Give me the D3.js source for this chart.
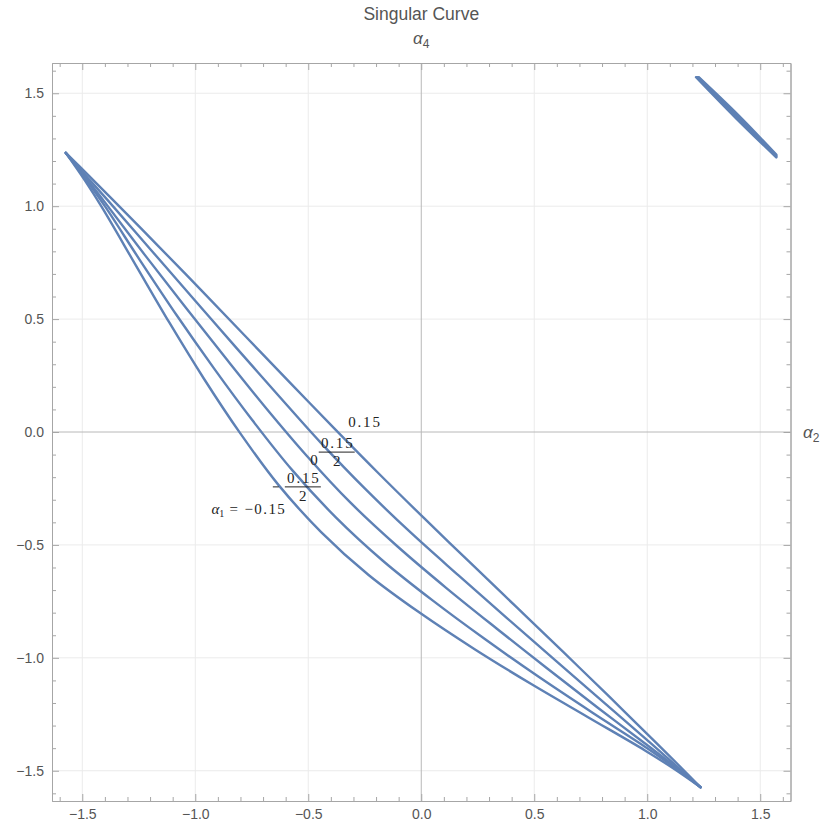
<!DOCTYPE html>
<html>
<head>
<meta charset="utf-8">
<script src="https://cdn.jsdelivr.net/npm/d3@7"></script>
<style>
  body { margin: 0; background: #fff; }
  text { font-family: "Liberation Sans", Arial, sans-serif; }
</style>
</head>
<body>
<div id="chart"></div>
<script>
// contour levels of alpha_1
const alphaLevels = [-0.15, -0.075, 0, 0.075, 0.15];

// main branch of each contour, [alpha2, alpha4]
const branchMinus015 = [[-1.573, 1.236], [-1.488, 1.113], [-1.41, 0.99], [-1.263, 0.738], [-1.115, 0.485], [-0.963, 0.238], [-0.803, -0.003], [-0.633, -0.233], [-0.443, -0.443], [-0.233, -0.633], [-0.003, -0.803], [0.238, -0.963], [0.485, -1.115], [0.738, -1.263], [0.99, -1.41], [1.113, -1.488], [1.236, -1.573]];
const branchMinus0075 = [[-1.573, 1.236], [-1.483, 1.117], [-1.40, 1.00], [-1.243, 0.758], [-1.083, 0.518], [-0.918, 0.283], [-0.748, 0.053], [-0.57, -0.17], [-0.378, -0.378], [-0.17, -0.57], [0.053, -0.748], [0.283, -0.918], [0.518, -1.083], [0.758, -1.243], [1.00, -1.40], [1.117, -1.483], [1.236, -1.573]];
const branchZero = [[-1.573, 1.236], [-1.48, 1.12], [-1.393, 1.008], [-1.22, 0.78], [-1.045, 0.555], [-0.869, 0.332], [-0.69, 0.11], [-0.506, -0.106], [-0.313, -0.313], [-0.106, -0.506], [0.11, -0.69], [0.332, -0.869], [0.555, -1.045], [0.78, -1.22], [1.008, -1.393], [1.12, -1.48], [1.236, -1.573]];
const branchPlus0075 = [[-1.573, 1.236], [-1.475, 1.125], [-1.381, 1.019], [-1.195, 0.805], [-1.009, 0.591], [-0.823, 0.378], [-0.635, 0.165], [-0.446, -0.046], [-0.25, -0.25], [-0.046, -0.446], [0.165, -0.635], [0.378, -0.823], [0.591, -1.009], [0.805, -1.195], [1.019, -1.381], [1.125, -1.475], [1.236, -1.573]];
const branchPlus015 = [[-1.573, 1.236], [-1.468, 1.132], [-1.369, 1.032], [-1.17, 0.83], [-0.973, 0.627], [-0.777, 0.423], [-0.581, 0.219], [-0.385, 0.016], [-0.186, -0.186], [0.016, -0.385], [0.219, -0.581], [0.423, -0.777], [0.627, -0.973], [0.83, -1.17], [1.032, -1.369], [1.132, -1.468], [1.236, -1.573]];

// small branch in the upper right corner
const cornerMinus015 = [[1.216, 1.571], [1.391, 1.391], [1.571, 1.216]];
const cornerMinus0075 = [[1.219, 1.571], [1.394, 1.394], [1.571, 1.219]];
const cornerZero = [[1.222, 1.571], [1.397, 1.397], [1.571, 1.222]];
const cornerPlus0075 = [[1.225, 1.571], [1.400, 1.400], [1.571, 1.225]];
const cornerPlus015 = [[1.228, 1.571], [1.403, 1.403], [1.571, 1.228]];

const mainBranches = [branchMinus015, branchMinus0075, branchZero, branchPlus0075, branchPlus015];
const cornerBranches = [cornerMinus015, cornerMinus0075, cornerZero, cornerPlus0075, cornerPlus015];

const majorTicks = [-1.5, -1.0, -0.5, 0.0, 0.5, 1.0, 1.5];
const minorTicks = [-1.6, -1.4, -1.3, -1.2, -1.1, -0.9, -0.8, -0.7, -0.6, -0.4, -0.3, -0.2, -0.1,
  0.1, 0.2, 0.3, 0.4, 0.6, 0.7, 0.8, 0.9, 1.1, 1.2, 1.3, 1.4, 1.6];

const width = 825;
const height = 828;
const margin = { top: 63, right: 34.5, bottom: 27, left: 52 };
const lim = 1.634;

const svg = d3.select('#chart').append('svg')
  .attr('width', width)
  .attr('height', height);

const x = d3.scaleLinear().domain([-lim, lim]).range([margin.left, width - margin.right]);
const y = d3.scaleLinear().domain([-lim, lim]).range([height - margin.bottom, margin.top]);

const frameColour = '#a6a6a6';
const curveColour = '#5e81b5';
const textColour = '#555';

// grid
const grid = svg.append('g');
grid.selectAll('.gx').data(majorTicks.filter(d => d !== 0)).enter().append('line')
  .attr('x1', d => x(d)).attr('x2', d => x(d))
  .attr('y1', y(-lim)).attr('y2', y(lim))
  .attr('stroke', '#ebebeb').attr('stroke-width', 1);
grid.selectAll('.gy').data(majorTicks.filter(d => d !== 0)).enter().append('line')
  .attr('y1', d => y(d)).attr('y2', d => y(d))
  .attr('x1', x(-lim)).attr('x2', x(lim))
  .attr('stroke', '#ebebeb').attr('stroke-width', 1);

// zero axes
svg.append('line')
  .attr('x1', x(0)).attr('x2', x(0)).attr('y1', y(-lim)).attr('y2', y(lim))
  .attr('stroke', '#b8b8b8').attr('stroke-width', 1);
svg.append('line')
  .attr('x1', x(-lim)).attr('x2', x(lim)).attr('y1', y(0)).attr('y2', y(0))
  .attr('stroke', '#b8b8b8').attr('stroke-width', 1);

// contours
const line = d3.line()
  .x(d => x(d[0]))
  .y(d => y(d[1]))
  .curve(d3.curveCatmullRom.alpha(0.5));

const curves = svg.append('g')
  .attr('fill', 'none')
  .attr('stroke', curveColour)
  .attr('stroke-width', 2.4)
  .attr('stroke-linecap', 'round')
  .attr('stroke-linejoin', 'round');

curves.selectAll('.main').data(mainBranches).enter().append('path')
  .attr('d', line);
curves.selectAll('.corner').data(cornerBranches).enter().append('path')
  .attr('d', line);

// frame + ticks with d3 axes
const fmt = d => d3.format('.1f')(d);

function styleAxis(g) {
  g.selectAll('path.domain').attr('stroke', frameColour);
  g.selectAll('.tick line').attr('stroke', frameColour);
  g.selectAll('.tick text').attr('fill', textColour).style('font-size', '14px')
    .style('font-family', '"Liberation Sans", Arial, sans-serif');
}

function addAxis(axisFn, scale, transform, showLabels) {
  const major = axisFn(scale).tickValues(majorTicks).tickSizeInner(-7).tickSizeOuter(0)
    .tickPadding(showLabels ? 8 : 0).tickFormat(showLabels ? fmt : '');
  const minor = axisFn(scale).tickValues(minorTicks).tickSizeInner(-4).tickSizeOuter(0).tickFormat('');
  svg.append('g').attr('transform', transform).call(minor).call(styleAxis);
  svg.append('g').attr('transform', transform).call(major).call(styleAxis);
}

addAxis(d3.axisBottom, x, `translate(0,${y(-lim)})`, true);
addAxis(d3.axisTop, x, `translate(0,${y(lim)})`, false);
addAxis(d3.axisLeft, y, `translate(${x(-lim)},0)`, true);
addAxis(d3.axisRight, y, `translate(${x(lim)},0)`, false);

// title and axis labels
svg.append('text')
  .attr('x', x(0)).attr('y', 20)
  .attr('text-anchor', 'middle')
  .attr('fill', textColour).style('font-size', '17.5px')
  .text('Singular Curve');

function greekLabel(px, py, sub, anchor) {
  const t = svg.append('text')
    .attr('x', px).attr('y', py)
    .attr('text-anchor', anchor)
    .attr('fill', textColour).style('font-size', '17px');
  t.append('tspan').style('font-style', 'italic').text('α');
  t.append('tspan').attr('dy', 4).style('font-size', '12px').text(sub);
}
greekLabel(x(0), 44, '4', 'middle');
greekLabel(803, 438, '2', 'start');

// contour labels (Mathematica style)
const labelFont = '"Liberation Serif", "Times New Roman", serif';
const lab = svg.append('g').attr('fill', '#222')
  .style('font-family', labelFont).style('font-size', '15px');

function plainLabel(px, py, str) {
  lab.append('text').attr('x', px).attr('y', py)
    .attr('text-anchor', 'middle').attr('letter-spacing', '1.8px')
    .style('font-family', labelFont)
    .text(str);
}

function fracLabel(cx, cy, num, den, neg) {
  lab.append('line')
    .attr('x1', cx - 18).attr('x2', cx + 18)
    .attr('y1', cy).attr('y2', cy)
    .attr('stroke', '#222').attr('stroke-width', 1);
  lab.append('text').attr('x', cx + 1).attr('y', cy - 4)
    .attr('text-anchor', 'middle').attr('letter-spacing', '1.8px')
    .style('font-family', labelFont).text(num);
  lab.append('text').attr('x', cx).attr('y', cy + 14)
    .attr('text-anchor', 'middle')
    .style('font-family', labelFont).text(den);
  if (neg) {
    lab.append('line')
      .attr('x1', cx - 30).attr('x2', cx - 24)
      .attr('y1', cy).attr('y2', cy)
      .attr('stroke', '#222').attr('stroke-width', 1);
  }
}

// label anchors in data coordinates
const labelPos = {
  plus015: [-0.249, 0.044],
  plus0075: [-0.374, -0.089],
  zero: [-0.471, -0.124],
  minus0075: [-0.524, -0.243],
  minus015: [-0.763, -0.341]
};

plainLabel(x(labelPos.plus015[0]), y(labelPos.plus015[1]) + 5, '0.15');
fracLabel(x(labelPos.plus0075[0]), y(labelPos.plus0075[1]), '0.15', '2', false);
plainLabel(x(labelPos.zero[0]), y(labelPos.zero[1]) + 5, '0');
fracLabel(x(labelPos.minus0075[0]), y(labelPos.minus0075[1]), '0.15', '2', true);

const a1 = lab.append('text')
  .attr('x', x(labelPos.minus015[0])).attr('y', y(labelPos.minus015[1]) + 5)
  .attr('text-anchor', 'middle').style('font-family', labelFont);
a1.append('tspan').style('font-style', 'italic').text('α');
a1.append('tspan').attr('dy', 3).style('font-size', '10px').text('1');
a1.append('tspan').attr('dy', -3).attr('letter-spacing', '1.4px').text(' = −0.15');
</script>
</body>
</html>
